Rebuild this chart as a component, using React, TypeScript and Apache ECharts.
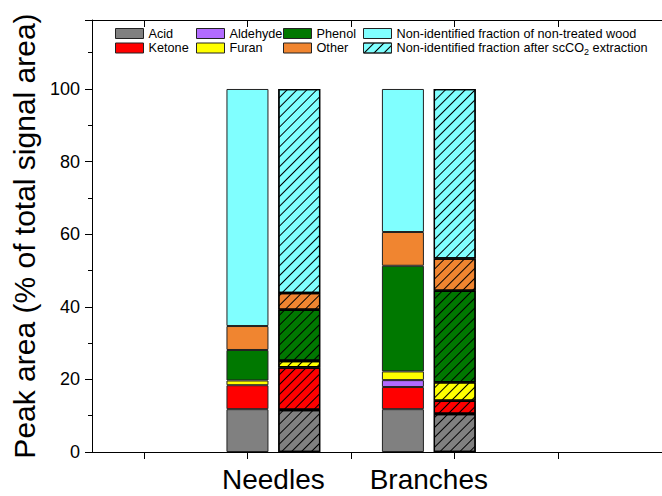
import React, { useEffect, useRef } from "react";
import * as echarts from "echarts";

// Bar order: Needles (non-treated), Needles (scCO2), Branches (non-treated), Branches (scCO2)
const groupLabels = ["Needles", "Branches"];
const acid = [11.8, 11.6, 11.8, 10.5];
const ketone = [6.6, 11.7, 6.1, 3.6];
const aldehyde = [0, 0, 1.9, 0];
const furan = [1.3, 1.8, 2.4, 5.1];
const phenol = [8.4, 14.1, 29.1, 25.2];
const other = [6.6, 4.6, 9.3, 8.9];
const nonIdNonTreated = [65.3, 39.4]; // Needles, Branches
const nonIdScCO2 = [56.2, 46.7]; // Needles, Branches
const yTicks = [0, 20, 40, 60, 80, 100];

const FONT = "'Liberation Sans', Arial, Helvetica, sans-serif";
const NAME_SC = "Non-identified fraction after scCO2 extraction";
const NAME_NT = "Non-identified fraction of non-treated wood";

const SLOT_COUNT = 12;
const barSlots = [3, 4, 6, 7];
const labelSlots = [3, 6];

const hatch = {
  symbol: "rect",
  symbolSize: 1,
  color: "#000",
  dashArrayX: [1, 0],
  dashArrayY: [1, 5.5],
  rotation: -Math.PI / 4,
};

function slots(values: number[], positions: number[], hatchedIdx: number[]) {
  const arr: any[] = new Array(SLOT_COUNT).fill("-");
  values.forEach((v, i) => {
    if (!v) return;
    const item: any = { value: v };
    if (hatchedIdx.includes(i)) {
      item.itemStyle = { decal: hatch, borderWidth: 1.3, borderColor: "#000" };
    }
    arr[positions[i]] = item;
  });
  return arr;
}

export default function App() {
  const ref = useRef<HTMLDivElement>(null);
  useEffect(() => {
    if (!ref.current) return;
    const chart = echarts.init(ref.current, null, { renderer: "svg" });
    const cats = new Array(SLOT_COUNT).fill(0).map((_, i) => String(i));
    const labelCats = new Array(SLOT_COUNT - 1).fill("");
    labelSlots.forEach((s, i) => (labelCats[s] = groupLabels[i]));

    const mk = (name: string, data: number[], color: string) => ({
      name,
      type: "bar",
      stack: "all",
      barWidth: 42,
      xAxisIndex: 0,
      data: slots(data, barSlots, [1, 3]),
      itemStyle: { color, borderColor: "#222", borderWidth: 1 },
    });

    const oddTick = (i: number) => i % 2 === 1;
    const legendBase = {
      orient: "vertical",
      icon: "rect",
      padding: 0,
      itemWidth: 28,
      itemHeight: 10,
      itemGap: 1.5,
      top: 27,
      textStyle: {
        fontFamily: FONT,
        fontSize: 12.7,
        color: "#000",
        rich: {
          sub: { fontFamily: FONT, fontSize: 9, color: "#000", padding: [7, 0, 0, 0] },
        },
      },
      formatter: (n: string) =>
        n === NAME_SC ? "Non-identified fraction after scCO{sub|2} extraction" : n,
      itemStyle: { borderColor: "#222", borderWidth: 1 },
    };

    chart.setOption({
      animation: false,
      backgroundColor: "#fff",
      grid: { left: 92, top: 20, right: -4.75, bottom: 44 },
      legend: [
        { ...legendBase, left: 115, data: ["Acid", "Ketone"] },
        { ...legendBase, left: 196, data: ["Aldehyde", "Furan"] },
        { ...legendBase, left: 283, data: ["Phenol", "Other"] },
        { ...legendBase, left: 363, data: [NAME_NT, NAME_SC] },
      ],
      xAxis: [
        {
          type: "category",
          data: cats,
          boundaryGap: false,
          position: "bottom",
          axisLine: { lineStyle: { color: "#000", width: 1 } },
          axisTick: { inside: false, length: 7, interval: oddTick, lineStyle: { color: "#000" } },
          axisLabel: { show: false },
          splitLine: { show: false },
        },
        {
          type: "category",
          data: labelCats,
          boundaryGap: true,
          position: "bottom",
          axisLine: { show: false },
          axisTick: { show: false },
          axisLabel: {
            show: true,
            interval: 0,
            margin: 13,
            fontFamily: FONT,
            fontSize: 28,
            color: "#000",
          },
          splitLine: { show: false },
        },
        {
          type: "category",
          data: cats,
          boundaryGap: false,
          position: "top",
          axisLine: { lineStyle: { color: "#000", width: 1 } },
          axisTick: { inside: true, length: 7, interval: oddTick, lineStyle: { color: "#000" } },
          axisLabel: { show: false },
          splitLine: { show: false },
        },
      ],
      yAxis: {
        type: "value",
        min: 0,
        max: 119,
        interval: 20,
        name: "Peak area (% of total signal area)",
        nameLocation: "middle",
        nameGap: 51,
        nameTextStyle: { fontFamily: FONT, fontSize: 30, color: "#000" },
        axisLine: { show: true, lineStyle: { color: "#000", width: 1 } },
        axisTick: { show: true, length: 7, lineStyle: { color: "#000" } },
        minorTick: { show: true, splitNumber: 2, length: 4, lineStyle: { color: "#000" } },
        axisLabel: {
          margin: 12,
          fontFamily: FONT,
          fontSize: 18,
          color: "#000",
          showMaxLabel: false,
          formatter: (v: number) => (yTicks.includes(v) ? String(v) : ""),
        },
        splitLine: { show: false },
      },
      series: [
        mk("Acid", acid, "#808080"),
        mk("Ketone", ketone, "#ff0000"),
        mk("Aldehyde", aldehyde, "#b26bff"),
        mk("Furan", furan, "#ffff00"),
        mk("Phenol", phenol, "#007800"),
        mk("Other", other, "#f08530"),
        {
          name: NAME_NT,
          type: "bar",
          stack: "all",
          barWidth: 42,
          data: slots(nonIdNonTreated, [barSlots[0], barSlots[2]], []),
          itemStyle: { color: "#80ffff", borderColor: "#222", borderWidth: 1 },
        },
        {
          name: NAME_SC,
          type: "bar",
          stack: "all",
          barWidth: 42,
          data: slots(nonIdScCO2, [barSlots[1], barSlots[3]], []),
          itemStyle: { color: "#80ffff", borderColor: "#000", borderWidth: 1.3, decal: hatch },
        },
      ],
    });
    return () => chart.dispose();
  }, []);
  return (
    <div
      ref={ref}
      style={{ position: "fixed", left: 0, top: 0, width: 662, height: 496 }}
    />
  );
}
